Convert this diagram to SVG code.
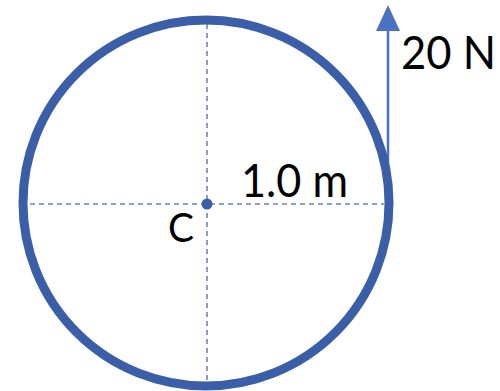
<svg xmlns="http://www.w3.org/2000/svg" width="500" height="391" viewBox="0 0 500 391">
<defs>
<style>
.lbl{font-family:"Lato","Liberation Sans",sans-serif;fill:#000;}
.dash{stroke:#6f80b8;stroke-width:1.6;stroke-dasharray:5 4;fill:none;}
</style>
<marker id="ah" viewBox="0 0 24 26" refX="12" refY="2" markerWidth="24" markerHeight="26" markerUnits="userSpaceOnUse" orient="auto">
<path d="M0,26 L12,0 L24,26 Z" fill="#4a72c0" transform="rotate(90 12 13)"/>
</marker>
</defs>
<rect width="500" height="391" fill="#fff"/>
<g id="axes">
<line class="dash" x1="30" y1="204" x2="384" y2="204"/>
<line class="dash" x1="207" y1="24" x2="207" y2="380"/>
</g>
<g id="connectors">
<line x1="388" y1="165" x2="388" y2="28" stroke="#4a72c0" stroke-width="2.5"/>
<path d="M376,31 L388,5 L400,31 Z" fill="#4a72c0"/>
</g>
<g id="wheel">
<circle cx="206" cy="203" r="183" fill="none" stroke="#3b5ea9" stroke-width="9"/>
</g>
<g id="center">
<circle cx="207" cy="204" r="5.5" fill="#3b5ea9"/>
<text class="lbl" x="168" y="242" font-size="41" textLength="26" lengthAdjust="spacingAndGlyphs">C</text>
</g>
<g id="radius-label">
<text class="lbl" x="241" y="197" font-size="46" textLength="107" lengthAdjust="spacingAndGlyphs">1.0 m</text>
</g>
<g id="force-label">
<text class="lbl" x="401" y="69" font-size="46" textLength="95" lengthAdjust="spacingAndGlyphs">20 N</text>
</g>
</svg>
